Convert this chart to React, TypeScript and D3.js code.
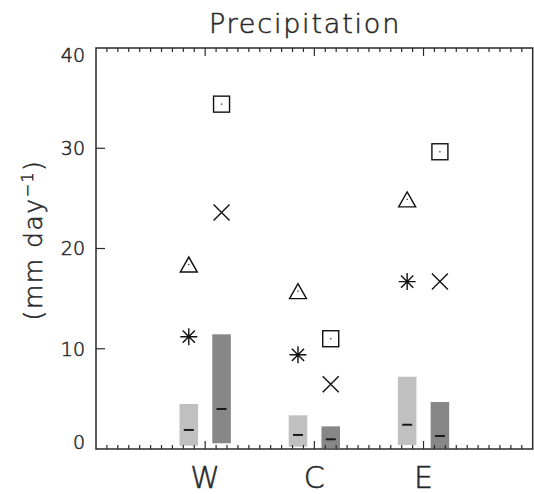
import { useEffect, useRef } from "react";
import * as d3 from "d3";

// regions and per-region statistics (mm/day)
const regions = ["W", "C", "E"];

// light bars (first model), dark bars (second model): range + median
const lightMin = [0.33, 0.23, 0.4];
const lightMax = [4.49, 3.36, 7.21];
const lightMed = [1.9, 1.4, 2.42];
const darkMin = [0.57, 0.1, 0.07];
const darkMax = [11.44, 2.26, 4.69];
const darkMed = [3.99, 0.97, 1.3];

// point symbols
const triangle = [18.4, 15.75, 24.9];
const asterisk = [11.2, 9.4, 16.7];
const square = [34.4, 11.0, 29.65];
const cross = [23.6, 6.45, 16.7];

const yTicks = [0, 10, 20, 30, 40];

const W = 534;
const H = 494;
const FONT = "'DejaVu Sans', sans-serif";
const INK = "#2a2a2a";

const App = () => {
  const svgRef = useRef<SVGSVGElement>(null);

  useEffect(() => {
    const svg = d3.select(svgRef.current);
    svg.selectAll("*").remove();

    const x = d3.scaleLinear().domain([0, 4]).range([96, 532.7]);
    const y = d3.scaleLinear().domain([0, 40]).range([449, 48]);
    const off = 0.15;
    const bw = 0.17;
    const cx = (i: number) => i + 1;

    const g = svg.append("g");

    // bars
    const drawBars = (mins: number[], maxs: number[], meds: number[], shift: number, color: string) => {
      regions.forEach((_, i) => {
        const xc = cx(i) + shift;
        g.append("rect")
          .attr("x", x(xc - bw / 2))
          .attr("width", x(xc + bw / 2) - x(xc - bw / 2))
          .attr("y", y(maxs[i]))
          .attr("height", y(mins[i]) - y(maxs[i]))
          .attr("fill", color);
        g.append("line")
          .attr("x1", x(xc) - 5)
          .attr("x2", x(xc) + 5)
          .attr("y1", y(meds[i]))
          .attr("y2", y(meds[i]))
          .attr("stroke", "#1a1a1a")
          .attr("stroke-width", 2);
      });
    };
    drawBars(lightMin, lightMax, lightMed, -off, "#c0c0c0");
    drawBars(darkMin, darkMax, darkMed, off, "#878787");

    // frame
    const [x0, x1] = x.range();
    const [yb, yt] = y.range();
    g.append("rect")
      .attr("x", x0)
      .attr("y", yt)
      .attr("width", x1 - x0)
      .attr("height", yb - yt)
      .attr("fill", "none")
      .attr("stroke", INK)
      .attr("stroke-width", 1.5);

    // x ticks, top and bottom
    const xMinor = d3.range(1, 40).map((d) => d / 10);
    xMinor.forEach((t) => {
      const major = Math.abs(t - Math.round(t)) < 1e-6;
      const len = major ? 8 : 4;
      g.append("line")
        .attr("x1", x(t)).attr("x2", x(t))
        .attr("y1", yb).attr("y2", yb - len)
        .attr("stroke", INK).attr("stroke-width", 1.2);
      g.append("line")
        .attr("x1", x(t)).attr("x2", x(t))
        .attr("y1", yt).attr("y2", yt + len)
        .attr("stroke", INK).attr("stroke-width", 1.2);
    });

    // y ticks
    yTicks.slice(1, -1).forEach((t) => {
      g.append("line")
        .attr("x1", x0).attr("x2", x0 + 9)
        .attr("y1", y(t)).attr("y2", y(t))
        .attr("stroke", INK).attr("stroke-width", 1.2);
    });

    const txt = (sel: d3.Selection<SVGTextElement, unknown, null, undefined>, size: number) =>
      sel
        .attr("font-family", FONT)
        .attr("font-size", size)
        .attr("font-weight", 200)
        .attr("fill", INK)
        .attr("stroke", INK)
        .attr("stroke-width", 0.55);

    // y tick labels
    yTicks.forEach((t) => {
      const yy = Math.max(yt + 7, Math.min(yb - 7, y(t)));
      txt(g.append("text"), 19)
        .attr("x", x0 - 11)
        .attr("y", yy)
        .attr("dy", "0.36em")
        .attr("text-anchor", "end")
        .text(t);
    });

    // x category labels
    regions.forEach((r, i) => {
      txt(g.append("text"), 30)
        .attr("x", x(cx(i)))
        .attr("y", 488)
        .attr("text-anchor", "middle")
        .text(r);
    });

    // title
    txt(svg.append("text"), 27)
      .attr("x", 305)
      .attr("y", 33)
      .attr("text-anchor", "middle")
      .attr("letter-spacing", 1.8)
      .text("Precipitation");

    // y axis label
    const yl = txt(svg.append("text"), 25)
      .attr("transform", "translate(42,240) rotate(-90)")
      .attr("text-anchor", "middle")
      .attr("letter-spacing", 1.5);
    yl.append("tspan").text("(mm day");
    yl.append("tspan").attr("dy", -9).attr("font-size", 16).text("\u22121");
    yl.append("tspan").attr("dy", 9).text(")");

    // symbols
    const s = 8.5;
    const sym = svg.append("g").attr("fill", "none").attr("stroke", "#111").attr("stroke-width", 1.4);
    const dot = (px: number, py: number) =>
      svg.append("rect").attr("x", px - 0.6).attr("y", py - 0.6).attr("width", 1.2).attr("height", 1.2).attr("fill", "#111");

    regions.forEach((_, i) => {
      const xl = x(cx(i) - off);
      const xr = x(cx(i) + off);

      // triangle
      const ty = y(triangle[i]);
      sym.append("path").attr("d", d3.line()([[xl - s, ty + 7.5], [xl, ty - 7.5], [xl + s, ty + 7.5]]) + "Z");
      dot(xl, ty);

      // asterisk
      const ay = y(asterisk[i]);
      const a = 8.5;
      const d = a * 0.72;
      sym.append("path").attr(
        "d",
        `M${xl - a},${ay}H${xl + a}M${xl},${ay - a}V${ay + a}` +
          `M${xl - d},${ay - d}L${xl + d},${ay + d}M${xl - d},${ay + d}L${xl + d},${ay - d}`
      );

      // square
      const sy = y(square[i]);
      sym.append("rect").attr("x", xr - 8).attr("y", sy - 8).attr("width", 16).attr("height", 16);
      dot(xr, sy);

      // cross
      const cyv = y(cross[i]);
      const c = 8;
      sym.append("path").attr("d", `M${xr - c},${cyv - c}L${xr + c},${cyv + c}M${xr - c},${cyv + c}L${xr + c},${cyv - c}`);
    });
  }, []);

  return (
    <svg
      ref={svgRef}
      width={W}
      height={H}
      style={{ position: "absolute", left: 0, top: 0, background: "#fff" }}
    />
  );
};

export default App;
